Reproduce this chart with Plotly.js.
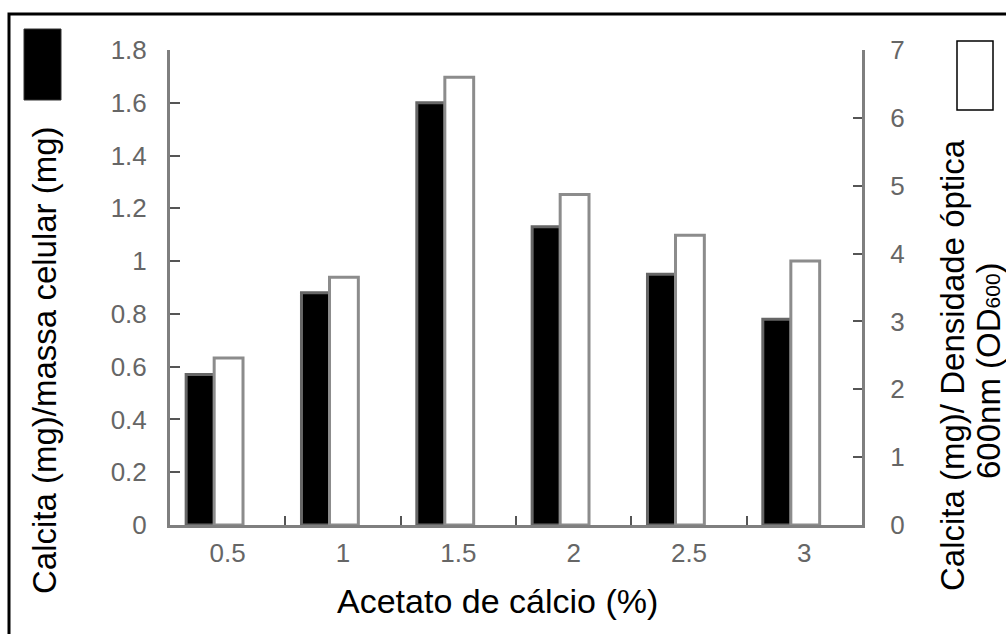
<!DOCTYPE html>
<html>
<head>
<meta charset="utf-8">
<script src="https://cdn.plot.ly/plotly-3.0.1.min.js"></script>
<style>
  html, body { margin: 0; padding: 0; background: #fff; }
  #chart { width: 1006px; height: 634px; }
</style>
</head>
<body>
<div id="chart"></div>
<script>
// ---- data ----
const categories = ['0.5', '1', '1.5', '2', '2.5', '3'];
const calcitaMassa = [0.57, 0.88, 1.60, 1.13, 0.95, 0.78];   // left axis (black bars)
const calcitaOD = [2.46, 3.65, 6.60, 4.87, 4.27, 3.89];      // right axis (white bars)
const leftTitle = 'Calcita (mg)/massa celular (mg)';
const rightTitle1 = 'Calcita (mg)/ Densidade óptica';
const rightTitle2 = '600nm (OD<span style="font-size:21px">600</span>)';
const xTitle = 'Acetato de cálcio (%)';

// ---- layout helpers (pixel -> paper) ----
const L = 170, R = 862, T = 50, B = 525;
const W = R - L, H = B - T;
const px = x => (x - L) / W;
const py = y => (B - y) / H;

const FONT = 'Arial, "Liberation Sans", sans-serif';
const xIdx = categories.map((_, i) => i);

const traces = [
  {
    type: 'bar', x: xIdx, y: calcitaMassa, yaxis: 'y',
    width: 0.245, offset: -0.36,
    marker: { color: '#000000', line: { color: '#666666', width: 3 } },
    hoverinfo: 'skip', showlegend: false
  },
  {
    type: 'bar', x: xIdx, y: calcitaOD, yaxis: 'y2',
    width: 0.25, offset: -0.117,
    marker: { color: '#ffffff', line: { color: '#8c8c8c', width: 3 } },
    hoverinfo: 'skip', showlegend: false
  }
];

const tickFont = { family: FONT, size: 26, color: '#666666' };

const layout = {
  width: 1006, height: 634,
  margin: { l: L, r: 1006 - R, t: T, b: 634 - B, pad: 0 },
  paper_bgcolor: '#ffffff', plot_bgcolor: '#ffffff',
  barmode: 'overlay',
  showlegend: false,
  xaxis: {
    range: [-0.5, 5.5], tickmode: 'array', tickvals: xIdx, ticktext: categories,
    ticks: '', showgrid: false, zeroline: false,
    showline: true, linecolor: '#7f7f7f', linewidth: 3,
    tickfont: tickFont, ticklabelstandoff: 3,
    minor: { tickmode: 'array', tickvals: [0.5, 1.5, 2.5, 3.5, 4.5], ticks: 'inside', ticklen: 9, tickwidth: 2, tickcolor: '#555555', showgrid: false }
  },
  yaxis: {
    range: [0, 1.8], dtick: 0.2, tick0: 0,
    ticks: 'inside', ticklen: 10, tickwidth: 2, tickcolor: '#555555',
    showgrid: false, zeroline: false,
    showline: true, linecolor: '#7f7f7f', linewidth: 3,
    tickfont: tickFont, ticklabelstandoff: 15
  },
  yaxis2: {
    range: [0, 7], dtick: 1, tick0: 0, overlaying: 'y', side: 'right',
    ticks: 'inside', ticklen: 9, tickwidth: 2, tickcolor: '#555555',
    showgrid: false, zeroline: false,
    showline: true, linecolor: '#7f7f7f', linewidth: 3,
    tickfont: tickFont, ticklabelstandoff: 20
  },
  annotations: [
    { text: leftTitle, xref: 'paper', yref: 'paper', x: px(44), y: py(360), textangle: -90,
      showarrow: false, xanchor: 'center', yanchor: 'middle', font: { family: FONT, size: 33, color: '#000' } },
    { text: xTitle, xref: 'paper', yref: 'paper', x: px(497), y: py(601),
      showarrow: false, xanchor: 'center', yanchor: 'middle', font: { family: FONT, size: 34, color: '#000' } },
    { text: rightTitle1, xref: 'paper', yref: 'paper', x: px(952), y: py(365), textangle: -90,
      showarrow: false, xanchor: 'center', yanchor: 'middle', font: { family: FONT, size: 33, color: '#000' } },
    { text: rightTitle2, xref: 'paper', yref: 'paper', x: px(988), y: py(371), textangle: -90,
      showarrow: false, xanchor: 'center', yanchor: 'middle', font: { family: FONT, size: 33, color: '#000' } }
  ],
  shapes: [
    { type: 'rect', xref: 'paper', yref: 'paper', x0: px(9), y0: py(640), x1: px(1012), y1: py(14),
      line: { color: '#000', width: 3 }, fillcolor: 'rgba(0,0,0,0)', layer: 'above' },
    { type: 'rect', xref: 'paper', yref: 'paper', x0: px(24), y0: py(100), x1: px(61), y1: py(29),
      line: { color: '#333', width: 1 }, fillcolor: '#000', layer: 'above' },
    { type: 'rect', xref: 'paper', yref: 'paper', x0: px(957), y0: py(110), x1: px(993), y1: py(41),
      line: { color: '#000', width: 1.5 }, fillcolor: '#fff', layer: 'above' }
  ]
};

Plotly.newPlot('chart', traces, layout, { staticPlot: true, displayModeBar: false });
</script>
</body>
</html>
